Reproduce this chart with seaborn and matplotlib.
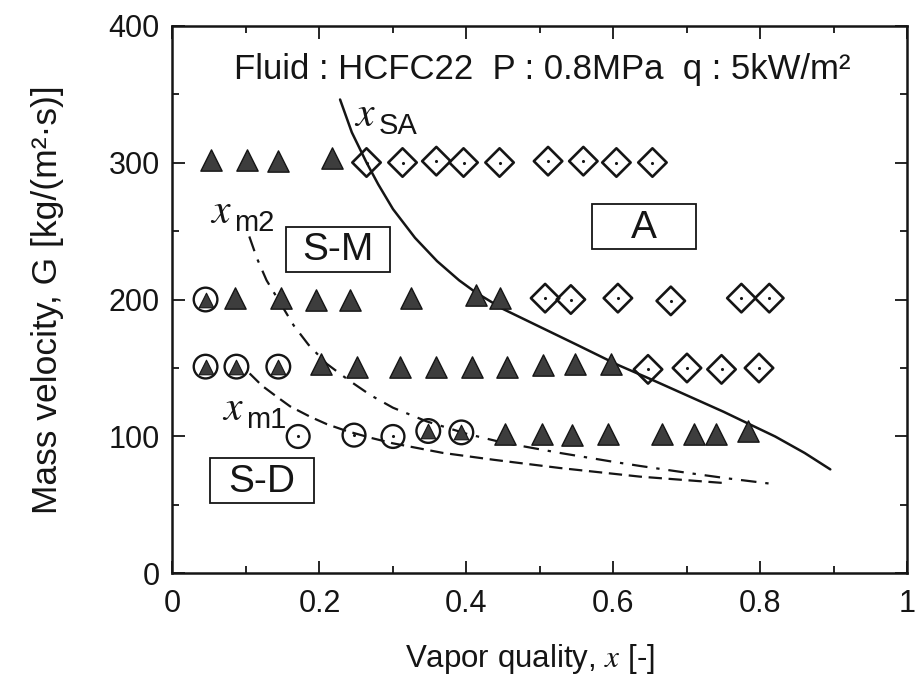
import matplotlib
matplotlib.use("Agg")
import matplotlib.pyplot as plt
from matplotlib.patches import Rectangle
import seaborn as sns

# Flow-pattern observations: vapor quality x [-] and mass velocity G [kg/(m2 s)]
tri_x = [0.052, 0.102, 0.143, 0.217,
         0.085, 0.147, 0.195, 0.241, 0.325, 0.413, 0.446,
         0.202, 0.251, 0.310, 0.359, 0.407, 0.455, 0.504, 0.548, 0.597,
         0.452, 0.503, 0.544, 0.592, 0.666, 0.710, 0.740, 0.783]
tri_g = [302, 302, 301, 303,
         201, 201, 200, 200, 201, 203, 201,
         153, 151, 151, 151, 151, 151, 152, 153, 153,
         102, 102, 101, 102, 102, 102, 102, 104]

ring_tri_x = [0.045, 0.045, 0.087, 0.144, 0.348, 0.393]
ring_tri_g = [200, 151, 151, 151, 104, 103]

ring_dot_x = [0.171, 0.247, 0.300]
ring_dot_g = [100, 101, 100]

dia_x = [0.264, 0.313, 0.359, 0.396, 0.445, 0.511, 0.559, 0.604, 0.653,
         0.507, 0.542, 0.606, 0.678, 0.774, 0.812,
         0.647, 0.700, 0.747, 0.798]
dia_g = [300, 300, 301, 300, 300, 301, 301, 300, 300,
         201, 200, 201, 199, 201, 201,
         149, 150, 149, 150]

# Transition boundaries
xsa_x = [0.228, 0.244, 0.264, 0.280, 0.300, 0.330, 0.360, 0.390, 0.413, 0.450,
         0.500, 0.550, 0.607, 0.650, 0.700, 0.750, 0.781, 0.820, 0.860, 0.895]
xsa_g = [346, 322, 300, 284, 266, 245, 228, 214, 205, 193,
         180, 167, 152, 142, 130, 118, 110, 100, 88, 76]

xm2_x = [0.1045, 0.115, 0.128, 0.146, 0.165, 0.185, 0.210, 0.240, 0.270, 0.300,
         0.346, 0.400, 0.450, 0.527, 0.600, 0.636, 0.700, 0.754, 0.822]
xm2_g = [246, 230, 214, 198, 181, 167, 153, 141, 130, 121,
         111, 102, 95.5, 88, 81.5, 78.5, 73.5, 69.5, 65]

xm1_x = [0.105, 0.122, 0.142, 0.160, 0.187, 0.210, 0.237, 0.270, 0.300, 0.368,
         0.437, 0.527, 0.636, 0.756]
xm1_g = [146, 137, 129, 122, 114.5, 109, 104, 99, 95, 88,
         83, 77, 70.7, 65.8]

x_ticks = [0, 0.2, 0.4, 0.6, 0.8, 1]
x_tick_labels = ["0", "0.2", "0.4", "0.6", "0.8", "1"]
g_ticks = [0, 100, 200, 300, 400]

sns.set_theme(style="ticks")
plt.rcParams["font.family"] = ["Liberation Sans", "DejaVu Sans"]
plt.rcParams["mathtext.fontset"] = "stix"

fig = plt.figure(figsize=(9.16, 6.79), dpi=100)
ax = fig.add_axes([0.1883, 0.1554, 0.8024, 0.807])

ink = "#151515"
tri_fill = "#3d3d3d"

# boundary curves
sns.lineplot(x=xsa_x, y=xsa_g, ax=ax, color=ink, lw=1.8, sort=False)
sns.lineplot(x=xm2_x, y=xm2_g, ax=ax, color=ink, lw=1.6, sort=False)
ax.lines[-1].set_dashes([7, 4, 1.5, 4])
sns.lineplot(x=xm1_x, y=xm1_g, ax=ax, color=ink, lw=1.6, sort=False)
ax.lines[-1].set_dashes([6, 3])

# filled triangles
sns.scatterplot(x=tri_x, y=tri_g, ax=ax, marker="^", s=235,
                color=tri_fill, edgecolor=ink, linewidth=1.0, zorder=4)
# circles enclosing a triangle
sns.scatterplot(x=ring_tri_x, y=ring_tri_g, ax=ax, marker="o", s=290,
                facecolor="none", edgecolor=ink, linewidth=1.7, zorder=4)
sns.scatterplot(x=ring_tri_x, y=ring_tri_g, ax=ax, marker="^", s=110,
                color=tri_fill, edgecolor=ink, linewidth=0.8, zorder=5)
# circles with a centre dot
sns.scatterplot(x=ring_dot_x, y=ring_dot_g, ax=ax, marker="o", s=270,
                facecolor="none", edgecolor=ink, linewidth=1.7, zorder=4)
sns.scatterplot(x=ring_dot_x, y=ring_dot_g, ax=ax, marker="o", s=5,
                color=ink, edgecolor=ink, linewidth=0, zorder=5)
# diamonds with a centre dot
sns.scatterplot(x=dia_x, y=dia_g, ax=ax, marker="D", s=210,
                facecolor="none", edgecolor=ink, linewidth=1.9, zorder=4)
sns.scatterplot(x=dia_x, y=dia_g, ax=ax, marker="o", s=5,
                color=ink, edgecolor=ink, linewidth=0, zorder=5)

ax.set_xlim(0, 1)
ax.set_ylim(0, 400)
ax.set_xticks(x_ticks)
ax.set_xticklabels(x_tick_labels)
ax.set_yticks(g_ticks)
ax.set_xticks([0.1, 0.3, 0.5, 0.7, 0.9], minor=True)
ax.set_yticks([50, 150, 250, 350], minor=True)
ax.tick_params(which="both", direction="in", top=True, right=True,
               width=1.3, colors=ink, labelsize=22, labelcolor=ink)
ax.tick_params(which="major", length=9)
ax.tick_params(which="minor", length=5)
ax.tick_params(axis="x", which="major", pad=11)
ax.tick_params(axis="y", which="major", pad=9)
for sp in ax.spines.values():
    sp.set_linewidth(1.8)
    sp.set_color(ink)
    sp.set_visible(True)

ax.set_xlabel("Vapor quality, $x$ [-]", fontsize=22.5, color=ink)
ax.xaxis.set_label_coords(0.486, -0.125)
ax.set_ylabel("Mass velocity, G [kg/(m²·s)]", fontsize=25.5, color=ink,
              labelpad=32)

ax.text(0.503, 361, "Fluid : HCFC22  P : 0.8MPa  q : 5kW/m²",
        ha="center", va="baseline", fontsize=25, color=ink)

# curve labels
def curve_label(x, g, sub, dx):
    ax.text(x, g, "$x$", fontsize=30, ha="center", va="center", color=ink)
    ax.text(x + dx, g - 8, sub, fontsize=21, ha="left", va="center", color=ink)

curve_label(0.262, 335, "SA", 0.018)
curve_label(0.066, 264, "m2", 0.018)
curve_label(0.082, 120, "m1", 0.018)

# regime boxes
def regime_box(xc, gc, label):
    w, h = 0.1415, 32.8
    ax.add_patch(Rectangle((xc - w / 2, gc - h / 2), w, h, fill=False,
                           edgecolor=ink, linewidth=1.3, zorder=3))
    ax.text(xc, gc - 1, label, ha="center", va="center", fontsize=28, color=ink)

regime_box(0.2257, 236.8, "S-M")
regime_box(0.6417, 253.4, "A")
regime_box(0.1218, 67.7, "S-D")

fig.savefig("out.png", dpi=100)
